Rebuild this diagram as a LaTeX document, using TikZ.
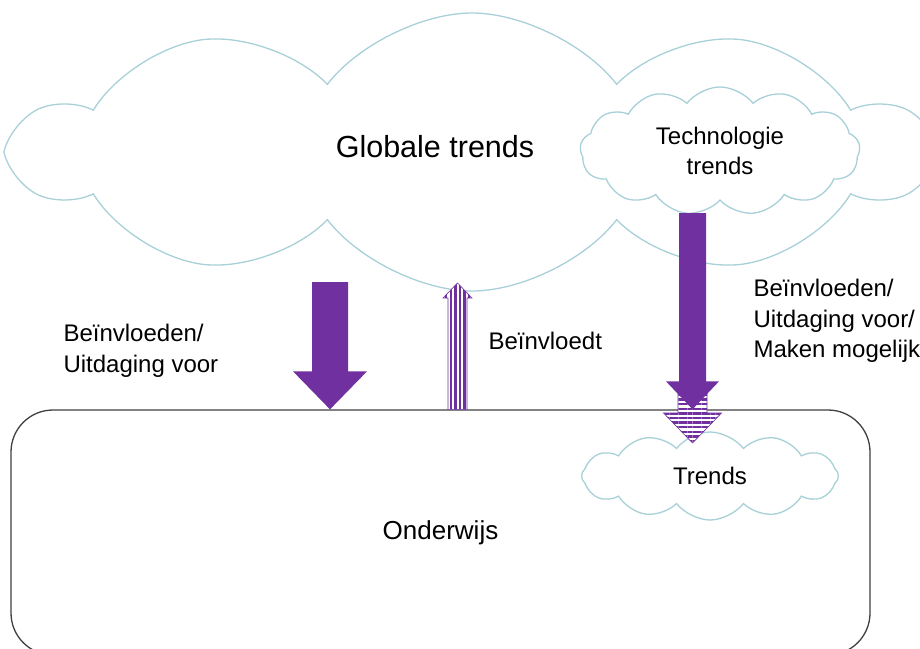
\documentclass[tikz,border=0pt]{standalone}
\usepackage{fontspec}
\setmainfont{Liberation Sans}
\usepackage{tikz}
\usetikzlibrary{shapes.symbols, calc, patterns.meta}

\definecolor{cloudline}{RGB}{168,208,216}
\definecolor{arrowpurple}{RGB}{112,48,160}
\definecolor{rectline}{RGB}{64,64,64}

% block arrow: style, tail, tip, half shaft, half head, head length (signed)
\newcommand{\blockarrow}[6]{%
  \path[#1] ($(#2)+(-#4,0)$) -- ($(#3)+(-#4,#6)$) -- ($(#3)+(-#5,#6)$) -- (#3)
    -- ($(#3)+(#5,#6)$) -- ($(#3)+(#4,#6)$) -- ($(#2)+(#4,0)$) -- cycle;}

\begin{document}
\begin{tikzpicture}[x=1pt, y=-1pt]
    \tikzset{wolk/.style = {cloud, cloud puffs=#1, cloud ignores aspect, cloud puff arc=105,
        draw=cloudline, line width=1.3pt, inner sep=0pt}}
    \tikzset{tekst/.style = {font=\fontsize{24}{30.5}\selectfont, align=left}}
    \tikzset{vol/.style = {fill=arrowpurple}}
    \tikzset{streep/.style = {draw=arrowpurple, line width=0.6pt, fill=white,
        postaction={pattern={Lines[angle=#1, distance=4.6pt, line width=2.3pt]}, pattern color=arrowpurple}}}

    \useasboundingbox (0,0) rectangle (920,648);

    % clouds
    \node[wolk=10, minimum width=912, minimum height=278] (glob) at (472,152) {};
    \node[font=\fontsize{30.5}{36}\selectfont] (globtxt) at (435,147) {Globale trends};
    \node[wolk=13, minimum width=280, minimum height=128, align=center,
        font=\fontsize{24}{30}\selectfont] (tech) at (720,151) {Technologie\\trends};

    % education box
    \node[draw=rectline, line width=1.3pt, rounded corners=42pt, fill=white,
        minimum width=859, minimum height=245, font=\fontsize{26}{30}\selectfont]
        (onderwijs) at (440.5,532.5) {Onderwijs};
    \node[wolk=12, fill=white, minimum width=257, minimum height=88,
        font=\fontsize{24}{30}\selectfont] (trends) at (710,476) {Trends};

    % arrows
    \coordinate (links) at (330,282);
    \coordinate (globvoet) at (457.5,283);
    \coordinate (techvoet) at (692.5,213);
    \coordinate (streepstart) at (692.5,393);
    \coordinate (trendskop) at (692.5,443);
    \coordinate (terug) at (globvoet |- onderwijs.north);

    \blockarrow{vol}{links}{links |- onderwijs.north}{18}{37}{-38}
    \blockarrow{streep=90}{terug}{globvoet}{9.5}{14.5}{15}
    \blockarrow{streep=0}{streepstart}{trendskop}{14.5}{29}{-30}
    \blockarrow{vol}{techvoet}{techvoet |- onderwijs.north}{13.5}{26.5}{-28}

    % labels
    \node[tekst, anchor=west] (lab1) at (60,351) {Beïnvloeden/\\Uitdaging voor};
    \node[tekst, anchor=west] (lab2) at (485,341) {Beïnvloedt};
    \node[tekst, anchor=west] (lab3) at (750,321) {Beïnvloeden/\\Uitdaging voor/\\Maken mogelijk};
\end{tikzpicture}
\end{document}
